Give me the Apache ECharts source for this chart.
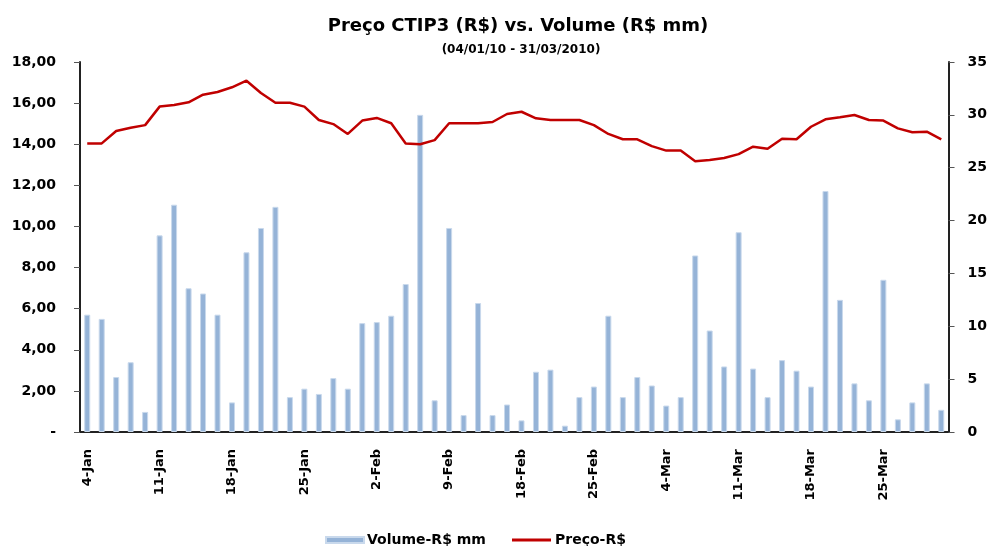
<!DOCTYPE html>
<html>
<head>
<meta charset="utf-8">
<script src="https://cdn.jsdelivr.net/npm/echarts@6/dist/echarts.min.js"></script>
<style>
  html, body { margin: 0; padding: 0; background: #fff; }
  #chart { width: 990px; height: 546px; }
</style>
</head>
<body>
<div id="chart"></div>
<script>
// trading days, 04/01/2010 - 31/03/2010
const dates = [
  '4-Jan', '5-Jan', '6-Jan', '7-Jan', '8-Jan',
  '11-Jan', '12-Jan', '13-Jan', '14-Jan', '15-Jan',
  '18-Jan', '19-Jan', '20-Jan', '21-Jan', '22-Jan',
  '25-Jan', '26-Jan', '27-Jan', '28-Jan', '29-Jan',
  '2-Feb', '3-Feb', '4-Feb', '5-Feb', '8-Feb',
  '9-Feb', '10-Feb', '11-Feb', '12-Feb', '17-Feb',
  '18-Feb', '19-Feb', '22-Feb', '23-Feb', '24-Feb',
  '25-Feb', '26-Feb', '1-Mar', '2-Mar', '3-Mar',
  '4-Mar', '5-Mar', '8-Mar', '9-Mar', '10-Mar',
  '11-Mar', '12-Mar', '15-Mar', '16-Mar', '17-Mar',
  '18-Mar', '19-Mar', '22-Mar', '23-Mar', '24-Mar',
  '25-Mar', '26-Mar', '29-Mar', '30-Mar', '31-Mar'
]

// Volume (R$ mm) - right axis
const volume = [
  11.1, 10.7, 5.2, 6.6, 1.9,
  18.6, 21.5, 13.6, 13.1, 11.1,
  2.8, 17.0, 19.3, 21.3, 3.3,
  4.1, 3.6, 5.1, 4.1, 10.3,
  10.4, 11.0, 14.0, 30.0, 3.0,
  19.3, 1.6, 12.2, 1.6, 2.6,
  1.1, 5.7, 5.9, 0.6, 3.3,
  4.3, 11.0, 3.3, 5.2, 4.4,
  2.5, 3.3, 16.7, 9.6, 6.2,
  18.9, 6.0, 3.3, 6.8, 5.8,
  4.3, 22.8, 12.5, 4.6, 3.0,
  14.4, 1.2, 2.8, 4.6, 2.1
]

// Preço (R$) - left axis
const price = [
  14.04, 14.04, 14.64, 14.80, 14.93,
  15.83, 15.91, 16.04, 16.41, 16.54,
  16.77, 17.09, 16.49, 16.02, 16.02,
  15.83, 15.18, 14.98, 14.50, 15.15,
  15.28, 15.02, 14.04, 14.00, 14.20,
  15.02, 15.02, 15.02, 15.08, 15.47,
  15.58, 15.26, 15.18, 15.18, 15.18,
  14.93, 14.50, 14.24, 14.24, 13.91,
  13.69, 13.69, 13.17, 13.23, 13.33,
  13.52, 13.88, 13.78, 14.27, 14.24,
  14.85, 15.21, 15.31, 15.42, 15.18,
  15.15, 14.77, 14.58, 14.61, 14.24
]

const chart = echarts.init(document.getElementById('chart'))

const labelFont = {
  fontFamily: 'DejaVu Sans',
  fontWeight: 'bold',
  color: '#000'
}

const option = {
  animation: false,
  title: [
    {
      text: 'Preço CTIP3 (R$) vs. Volume (R$ mm)',
      left: 513,
      top: 12,
      textAlign: 'center',
      textStyle: { ...labelFont, fontSize: 18 }
    },
    {
      text: '(04/01/10 - 31/03/2010)',
      left: 516,
      top: 39,
      textAlign: 'center',
      textStyle: { ...labelFont, fontSize: 12 }
    }
  ],
  grid: {
    left: 80,
    right: 41,
    top: 62,
    bottom: 114
  },
  legend: [
    {
      left: 320,
      top: 528,
      icon: 'rect',
      itemWidth: 38,
      itemHeight: 6,
      data: ['Volume-R$ mm'],
      textStyle: { ...labelFont, fontSize: 14, padding: [0, 0, 0, -2] }
    },
    {
      left: 507,
      top: 528,
      icon: 'rect',
      itemWidth: 39,
      itemHeight: 3,
      data: ['Preço-R$'],
      textStyle: { ...labelFont, fontSize: 14, padding: [0, 0, 0, -1] }
    }
  ],
  xAxis: {
    type: 'category',
    data: dates,
    axisLine: { lineStyle: { color: '#222', width: 2 } },
    axisTick: { interval: 0, length: 5, lineStyle: { color: '#555' } },
    axisLabel: {
      ...labelFont,
      fontSize: 13,
      interval: 4,
      rotate: 90,
      margin: 17
    }
  },
  yAxis: [
    {
      type: 'value',
      min: 0,
      max: 18,
      interval: 2,
      splitLine: { show: false },
      axisLine: { show: true, lineStyle: { color: '#222', width: 2 } },
      axisTick: { show: true, length: 6, lineStyle: { color: '#555' } },
      axisLabel: {
        ...labelFont,
        fontSize: 14,
        margin: 24,
        formatter: v => v === 0 ? '-' : v.toFixed(2).replace('.', ',')
      }
    },
    {
      type: 'value',
      min: 0,
      max: 35,
      interval: 5,
      splitLine: { show: false },
      axisLine: { show: true, lineStyle: { color: '#222', width: 2 } },
      axisTick: { show: true, length: 6, lineStyle: { color: '#555' } },
      axisLabel: {
        ...labelFont,
        fontSize: 14,
        margin: 19
      }
    }
  ],
  series: [
    {
      name: 'Volume-R$ mm',
      type: 'bar',
      yAxisIndex: 1,
      data: volume,
      barWidth: 6,
      itemStyle: {
        color: '#95B3D7',
        borderColor: '#C9D9EC',
        borderWidth: 1
      }
    },
    {
      name: 'Preço-R$',
      type: 'line',
      yAxisIndex: 0,
      data: price,
      symbol: 'none',
      lineStyle: { color: '#C00000', width: 2.5 },
      itemStyle: { color: '#C00000' }
    }
  ]
}

chart.setOption(option)
</script>
</body>
</html>
